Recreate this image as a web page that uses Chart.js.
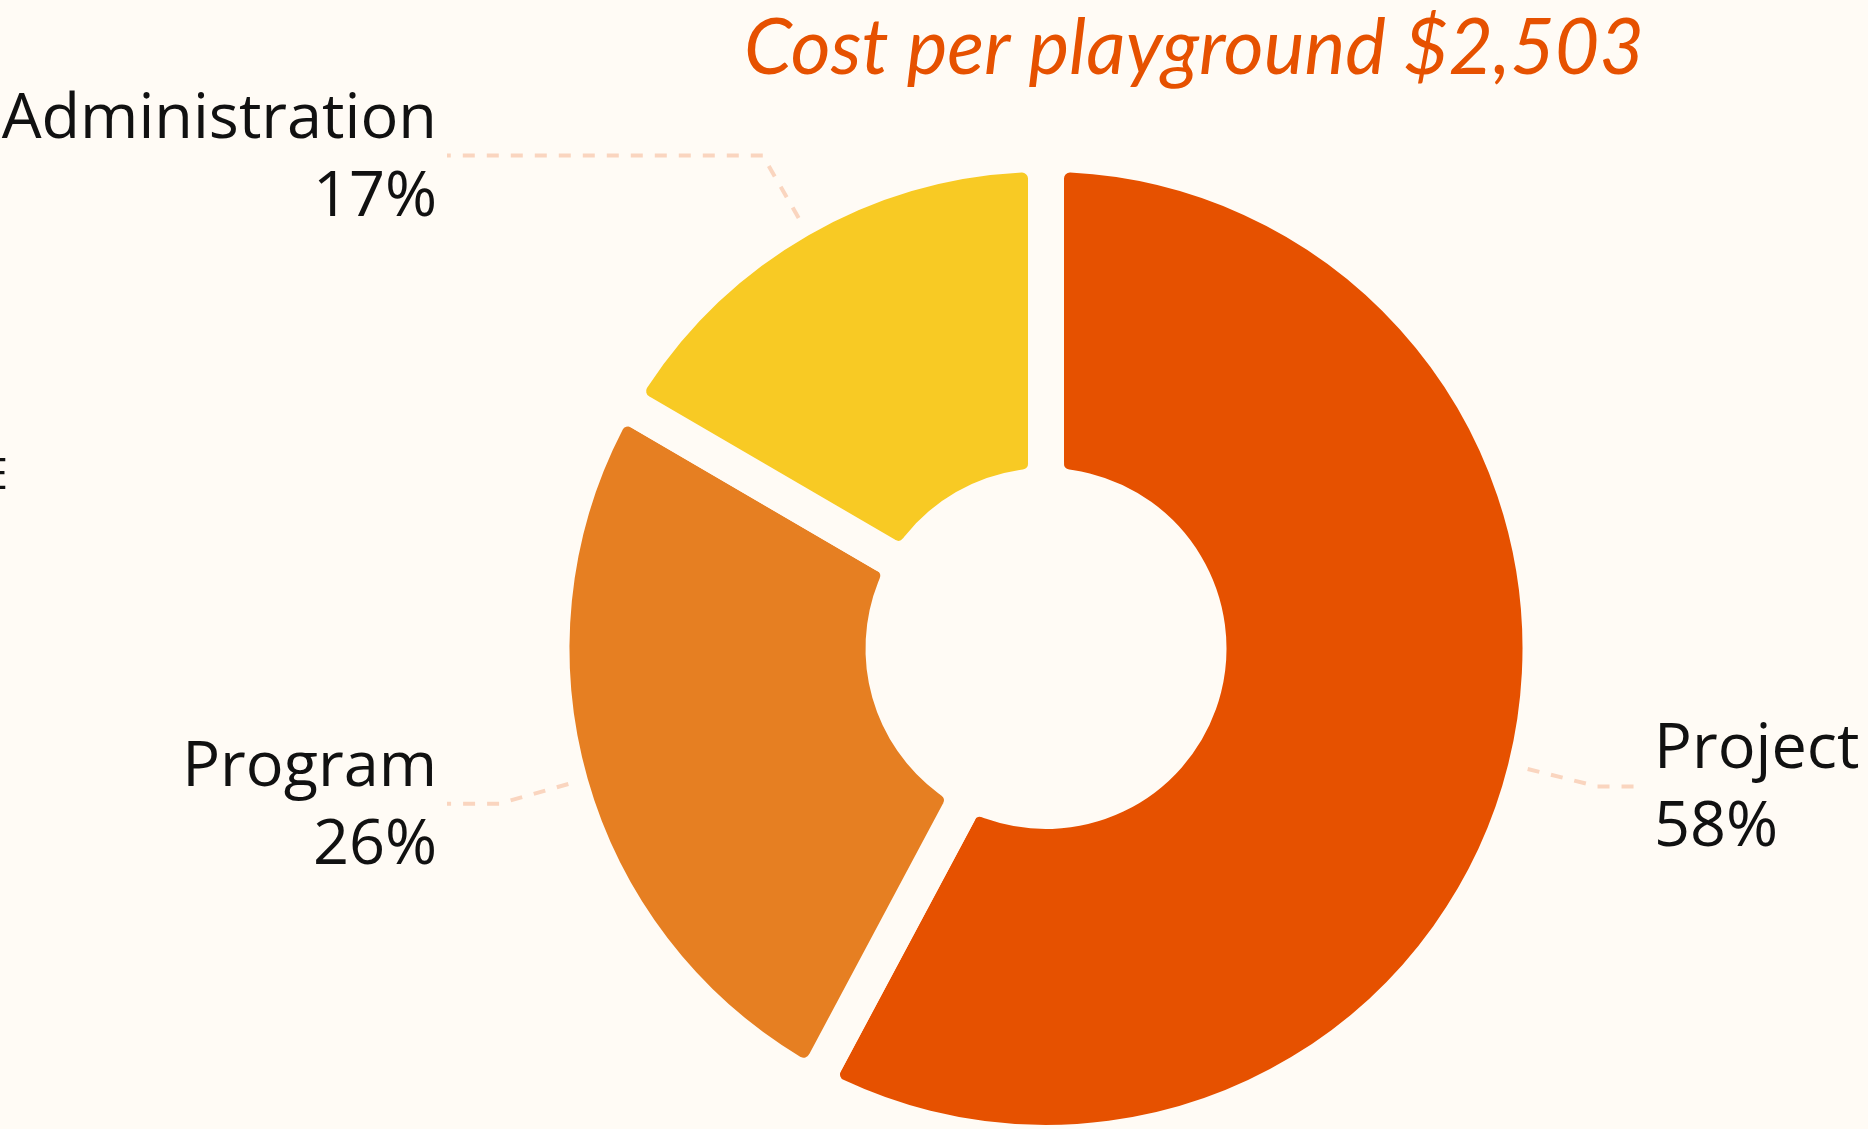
<!DOCTYPE html>
<html><head><meta charset="utf-8">
<script src="https://cdn.jsdelivr.net/npm/chart.js@4.4.1/dist/chart.umd.min.js"></script>
<style>html,body{margin:0;padding:0;background:#FFFBF5;overflow:hidden}#wrap{width:1868px;height:1129px;position:relative}</style>
</head><body><div id="wrap"><canvas id="c" width="1868" height="1129"></canvas></div>
<script>
const categories = ['Project', 'Program', 'Administration'];
const shares = [57.8, 25.6, 16.6];
const pctLabels = ['58%', '26%', '17%'];
const colors = ['#E65100', '#E67F22', '#F8CA24'];
const titleText = 'Cost per playground $2,503';

const BG = '#FFFBF5';
const GAP = 36;

const bgPlugin = {
  id: 'bg',
  beforeDraw(chart) {
    const c = chart.ctx;
    c.save(); c.fillStyle = BG; c.fillRect(0, 0, chart.width, chart.height); c.restore();
  }
};

const labelPlugin = {
  id: 'outlabels',
  afterDatasetsDraw(chart) {
    const c = chart.ctx;
    const meta = chart.getDatasetMeta(0);
    c.save();
    meta.data.forEach((arc, i) => {
      const p = arc.getProps(['x', 'y', 'startAngle', 'endAngle', 'outerRadius'], true);
      const mid = (p.startAngle + p.endAngle) / 2;
      const R = p.outerRadius - GAP / 2;
      const s = {x: p.x + Math.cos(mid) * (R + 20), y: p.y + Math.sin(mid) * (R + 20)};
      const e = {x: p.x + Math.cos(mid) * (R + 92), y: p.y + Math.sin(mid) * (R + 92)};
      const right = Math.cos(mid) > 0;
      const endX = right ? p.x + 588 : p.x - 599;
      c.beginPath();
      c.setLineDash([12, 12]);
      c.lineWidth = 4;
      c.lineJoin = 'round';
      c.strokeStyle = '#FAD5BF';
      c.moveTo(s.x, s.y);
      c.lineTo(e.x, e.y);
      c.lineTo(endX, e.y);
      c.stroke();
      c.setLineDash([]);
      c.fillStyle = '#111111';
      c.font = '400 63px "Open Sans"';
      c.textBaseline = 'alphabetic';
      c.textAlign = right ? 'left' : 'right';
      const tx = right ? endX + 20 : endX - 10;
      c.fillText(categories[i], tx, e.y - 18);
      c.fillText(pctLabels[i], tx, e.y + 60);
    });
    // title
    c.fillStyle = '#E65100';
    c.textAlign = 'center';
    c.textBaseline = 'alphabetic';
    let fs = 70;
    c.font = 'italic 400 ' + fs + 'px Lato';
    const w = c.measureText(titleText).width;
    fs = fs * 900 / w;
    c.font = 'italic 400 ' + fs.toFixed(1) + 'px Lato';
    c.fillText(titleText, 1194, 74);
    // clipped glyph at left edge
    c.fillStyle = '#111111';
    c.font = '400 44px "Open Sans"';
    c.textAlign = 'right';
    c.fillText('E', 8, 489);
    c.restore();
  }
};

new Chart(document.getElementById('c'), {
  type: 'doughnut',
  data: {
    labels: categories,
    datasets: [{
      data: shares,
      backgroundColor: colors,
      borderColor: BG,
      borderWidth: GAP,
      borderAlign: 'center',
      borderRadius: 24,
      hoverOffset: 0
    }]
  },
  options: {
    responsive: false,
    animation: false,
    events: [],
    radius: 494.5,
    cutout: '32.86%',
    rotation: 0,
    layout: {padding: {top: 172, bottom: 4, left: 224, right: 0}},
    plugins: {legend: {display: false}, tooltip: {enabled: false}, title: {display: false}}
  },
  plugins: [bgPlugin, labelPlugin]
});
</script>
</body></html>
